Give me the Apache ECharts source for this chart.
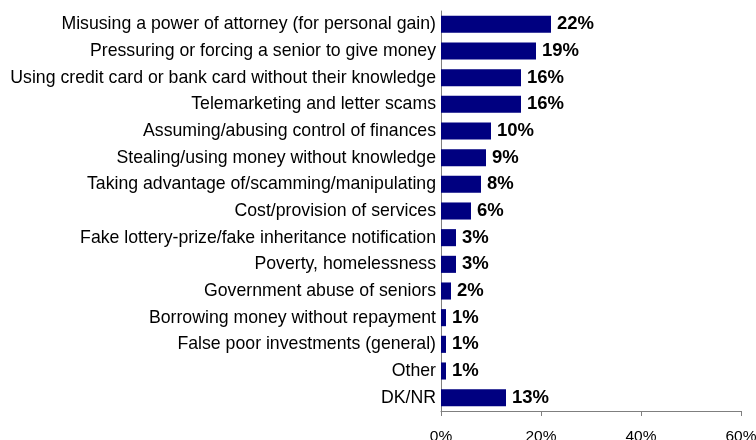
<!DOCTYPE html>
<html>
<head>
<meta charset="utf-8">
<script src="https://cdn.jsdelivr.net/npm/echarts@6/dist/echarts.min.js"></script>
<style>
  html, body { margin: 0; padding: 0; background: #fff; }
  #chart { width: 756px; height: 440px; }
</style>
</head>
<body>
<div id="chart"></div>
<script>
// Financial abuse types, listed top to bottom
const categories = [
  'Misusing a power of attorney (for personal gain)',
  'Pressuring or forcing a senior to give money',
  'Using credit card or bank card without their knowledge',
  'Telemarketing and letter scams',
  'Assuming/abusing control of finances',
  'Stealing/using money without knowledge',
  'Taking advantage of/scamming/manipulating',
  'Cost/provision of services',
  'Fake lottery-prize/fake inheritance notification',
  'Poverty, homelessness',
  'Government abuse of seniors',
  'Borrowing money without repayment',
  'False poor investments (general)',
  'Other',
  'DK/NR'
];
// Share of responses, percent
const values = [22, 19, 16, 16, 10, 9, 8, 6, 3, 3, 2, 1, 1, 1, 13];
const xTicks = [0, 20, 40, 60];

const FONT = '"Liberation Sans", Arial, sans-serif';

const chart = echarts.init(document.getElementById('chart'), null, { renderer: 'canvas' });
chart.setOption({
  animation: false,
  backgroundColor: '#ffffff',
  textStyle: { fontFamily: FONT },
  grid: {
    left: 441, right: 15, top: 11, bottom: 29,
    containLabel: false,
    outerBoundsMode: 'none'
  },
  xAxis: {
    type: 'value',
    min: xTicks[0],
    max: xTicks[xTicks.length - 1],
    interval: 20,
    splitLine: { show: false },
    axisLine: { show: true, lineStyle: { color: '#7f7f7f', width: 1 } },
    axisTick: { show: true, length: 5, lineStyle: { color: '#7f7f7f' } },
    axisLabel: {
      margin: 18,
      color: '#000',
      fontSize: 15.5,
      fontFamily: FONT,
      hideOverlap: false,
      formatter: v => v + '%'
    }
  },
  yAxis: {
    type: 'category',
    data: categories,
    inverse: true,
    axisLine: { show: true, lineStyle: { color: '#7f7f7f', width: 1 } },
    axisTick: { show: false },
    axisLabel: {
      interval: 0,
      hideOverlap: false,
      margin: 5,
      color: '#000',
      fontSize: 17.7,
      fontFamily: FONT
    }
  },
  series: [{
    type: 'bar',
    data: values,
    barCategoryGap: '36%',
    itemStyle: { color: '#000080' },
    label: {
      show: true,
      position: 'right',
      distance: 6,
      color: '#000',
      fontWeight: 'bold',
      fontSize: 18.5,
      fontFamily: FONT,
      formatter: p => p.value + '%'
    }
  }]
});
</script>
</body>
</html>
